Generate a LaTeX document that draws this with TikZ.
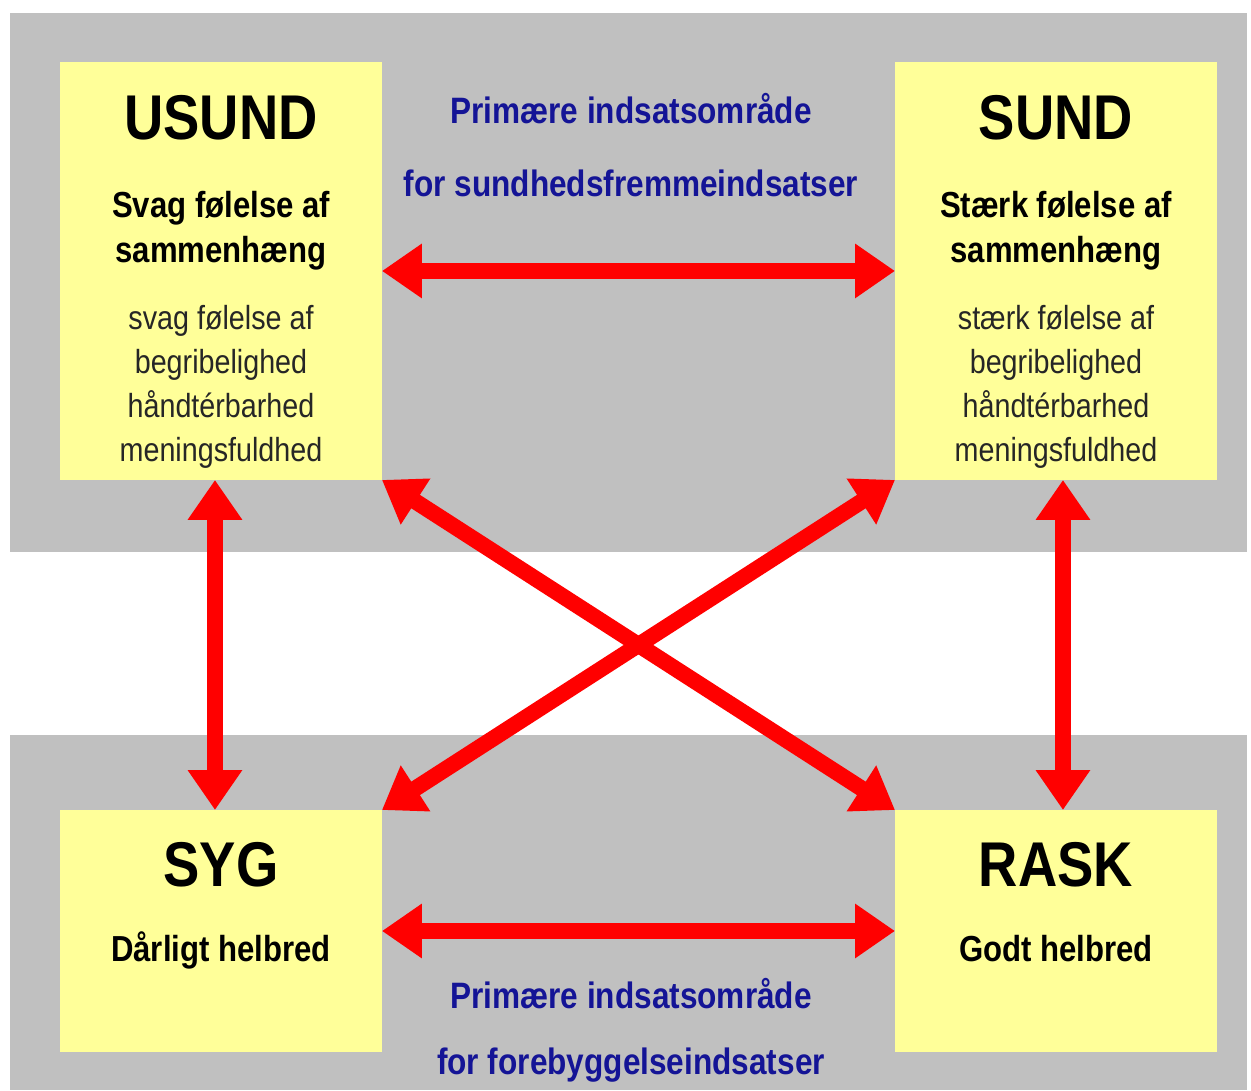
\documentclass[tikz,border=0pt]{standalone}
\usepackage{fontspec}
\setmainfont{Liberation Sans}[FakeStretch=0.86]
\usetikzlibrary{arrows.meta}
\definecolor{bandgray}{RGB}{192,192,192}
\definecolor{boxyellow}{RGB}{255,255,153}
\definecolor{arrred}{RGB}{255,0,0}
\definecolor{navyblue}{RGB}{20,20,150}
\begin{document}
\begin{tikzpicture}[x=0.02cm,y=-0.02cm,
 box/.style={fill=boxyellow, draw=none, anchor=north west, minimum width=6.44cm, inner sep=0pt, outer sep=0pt},
 ttl/.style={font=\bfseries\fontsize{36}{40}\selectfont, anchor=base, inner sep=0pt},
 sub/.style={font=\bfseries\fontsize{20.6}{24}\selectfont, anchor=base, inner sep=0pt},
 txt/.style={font=\fontsize{19}{22}\selectfont, text=black!85, anchor=base, inner sep=0pt},
 blu/.style={font=\bfseries\fontsize{20.9}{24}\selectfont, text=navyblue, anchor=base, inner sep=0pt},
 dbl/.style={draw=arrred, line width=0.32cm, {Triangle[length=0.8cm,width=1.04cm]}-{Triangle[length=0.8cm,width=1.04cm]}}
]
\fill[white] (0,0) rectangle (1251,1090);
\useasboundingbox (0,0) rectangle (1251,1090);
% bands
\fill[bandgray] (10,13) rectangle (1247,552);
\fill[bandgray] (10,735) rectangle (1247,1090);
% boxes
\node[box, minimum height=8.36cm] (usund) at (60,62) {};
\node[box, minimum height=8.36cm] (sund) at (895,62) {};
\node[box, minimum height=4.84cm] (syg) at (60,810) {};
\node[box, minimum height=4.84cm] (rask) at (895,810) {};
% arrows
\draw[dbl] (usund.east) -- (sund.west);
\draw[dbl] (syg.east) -- (rask.west);
\draw[dbl] ([xshift=-0.12cm]usund.south) -- ([xshift=-0.12cm]syg.north);
\draw[dbl] ([xshift=0.14cm]sund.south) -- ([xshift=0.14cm]rask.north);
\draw[dbl] (usund.south east) -- (rask.north west);
\draw[dbl] (sund.south west) -- (syg.north east);
% USUND text
\node[ttl] (t1) at (221,139) {USUND};
\node[sub] (t1a) at (221,217) {Svag følelse af};
\node[sub] (t1b) at (221,262) {sammenhæng};
\node[txt] (t1c) at (221,329) {svag følelse af};
\node[txt] (t1d) at (221,373) {begribelighed};
\node[txt] (t1e) at (221,417) {håndtérbarhed};
\node[txt] (t1f) at (221,461) {meningsfuldhed};
% SUND text
\node[ttl] (t2) at (1056,139) {SUND};
\node[sub] (t2a) at (1056,217) {Stærk følelse af};
\node[sub] (t2b) at (1056,262) {sammenhæng};
\node[txt] (t2c) at (1056,329) {stærk følelse af};
\node[txt] (t2d) at (1056,373) {begribelighed};
\node[txt] (t2e) at (1056,417) {håndtérbarhed};
\node[txt] (t2f) at (1056,461) {meningsfuldhed};
% SYG / RASK text
\node[ttl] (t3) at (221,886) {SYG};
\node[sub] (t3a) at (221,961) {Dårligt helbred};
\node[ttl] (t4) at (1056,886) {RASK};
\node[sub] (t4a) at (1056,961) {Godt helbred};
% blue texts
\node[blu] (b1) at (631,123) {Primære indsatsområde};
\node[blu] (b2) at (631,196) {for sundhedsfremmeindsatser};
\node[blu] (b3) at (631,1008) {Primære indsatsområde};
\node[blu] (b4) at (631,1074) {for forebyggelseindsatser};
\end{tikzpicture}
\end{document}
